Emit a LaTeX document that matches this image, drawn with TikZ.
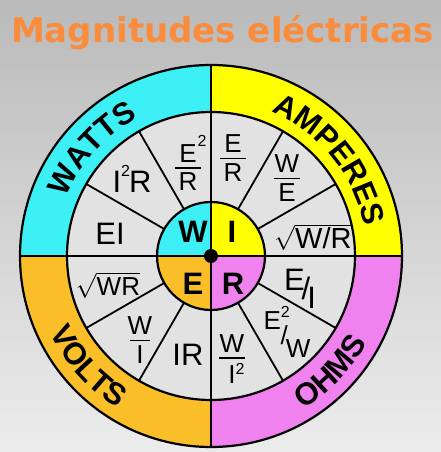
\documentclass[tikz,border=0pt]{standalone}
\usepackage{amsmath}
\usepackage{fontspec}
\setmainfont{Liberation Sans}
\newfontfamily\titlefamily{DejaVu Sans}
\usetikzlibrary{decorations.text}
\definecolor{bgtop}{RGB}{186,186,186}
\definecolor{bgbottom}{RGB}{236,236,236}
\definecolor{titleorange}{RGB}{250,140,60}
\definecolor{wattcyan}{RGB}{60,240,245}
\definecolor{ampyellow}{RGB}{255,255,0}
\definecolor{voltorange}{RGB}{250,190,40}
\definecolor{ohmpink}{RGB}{240,130,240}
\definecolor{ringgray}{RGB}{226,226,226}
\newcommand{\bandfont}{\bfseries\fontsize{31}{31}\selectfont}
\newcommand{\fr}[3][1em]{\shortstack{#2\\[2pt]\rule{#1}{1.8pt}\\[1pt]#3}}
\newcommand{\sq}[1]{\raisebox{#1}{\fontsize{16}{16}\selectfont 2}}
\tikzset{
  rim/.style={line width=2.2pt},
  spoke/.style={line width=1.8pt},
  formula/.style={inner sep=0pt, font=\fontsize{31}{31}\selectfont},
  fracformula/.style={inner sep=0pt, font=\fontsize{26}{26}\selectfont},
  hubletter/.style={inner sep=0pt, font=\bfseries\fontsize{31}{31}\selectfont},
  bandtext/.style={decorate, decoration={text along path, text align=center, text={|\bandfont|#1}}},
}

\begin{document}
\begin{tikzpicture}[x=1pt, y=1pt]
  \useasboundingbox (-211,-196) rectangle (230,256);
  \shade[top color=bgtop, bottom color=bgbottom] (-211,-196) rectangle (230,256);
  \node[anchor=base, text=titleorange, font=\titlefamily\bfseries\fontsize{34}{34}\selectfont]
    (title) at (11.5,213) {Magnitudes eléctricas};
  % coloured quarters and grey ring
  \foreach \col/\a in {ampyellow/0, wattcyan/90, voltorange/180, ohmpink/270} {
    \fill[\col] (0,0) -- (\a:191) arc[start angle=\a, end angle=\a+90, radius=191] -- cycle;
  }
  \fill[ringgray] (0,0) circle (144);
  \foreach \col/\a in {ampyellow/0, wattcyan/90, voltorange/180, ohmpink/270} {
    \fill[\col] (0,0) -- (\a:54) arc[start angle=\a, end angle=\a+90, radius=54] -- cycle;
  }
  \draw[rim] (0,0) circle (191);
  \draw[rim] (0,0) circle (144);
  \draw[rim] (0,0) circle (54);
  \draw[rim] (-191,0) -- (191,0);
  \draw[rim] (0,-191) -- (0,191);
  \foreach \a in {30,60,120,150,210,240,300,330}
    \draw[spoke] (\a:54) -- (\a:144);
  \fill (0,0) circle (7);
  % band names
  \path[bandtext=WATTS] (178:156) arc[start angle=178, end angle=98, radius=156];
  \path[bandtext=AMPERES] (79:156) arc[start angle=79, end angle=-1, radius=156];
  \path[bandtext=VOLTS] (182:178.5) arc[start angle=182, end angle=262, radius=178.5];
  \path[bandtext=OHMS] (276:178.5) arc[start angle=276, end angle=356, radius=178.5];
  % hub
  \node[hubletter] (w) at (-18,24) {W};
  \node[hubletter] (i) at (21,24) {I};
  \node[hubletter] (e) at (-18,-28) {E};
  \node[hubletter] (r) at (22,-28) {R};
  % watts
  \node[fracformula] (w1) at (-23,93) {\fr{E\rlap{\kern1pt\sq{0.6em}}}{R}};
  \node[formula] (w2) at (-79,77) {I\sq{0.5em}\kern-1pt R};
  \node[formula] (w3) at (-101,22) {EI};
  % amperes
  \node[fracformula] (i1) at (22,98) {\fr{E}{R}};
  \node[fracformula] (i2) at (76,78) {\fr{W}{E}};
  \node[fracformula, font=\fontsize{29}{29}\selectfont] (i3) at (102,19) {$\sqrt{\text{W/R}}$};
  % volts
  \node[fracformula] (e1) at (-103,-29) {$\sqrt{\text{WR}}$};
  \node[fracformula] (e2) at (-71,-84) {\fr[0.8em]{W}{I}};
  \node[formula] (e3) at (-23,-99) {IR};
  % ohms
  \node[formula] (r1) at (89,-33) {\raisebox{7pt}{E}\kern-3pt\raisebox{-2pt}{/}\kern-3pt\raisebox{-11pt}{I}};
  \node[fracformula] (r2) at (76,-76) {\raisebox{13pt}{E\sq{0.45em}}\kern-9pt\raisebox{-2pt}{/}\kern-2pt\raisebox{-15pt}{W}};
  \node[fracformula] (r3) at (21,-103) {\fr{W}{I\rlap{\sq{0.35em}}}};
\end{tikzpicture}
\end{document}
